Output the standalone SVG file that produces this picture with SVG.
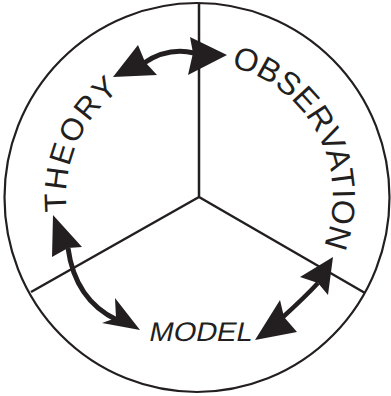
<svg xmlns="http://www.w3.org/2000/svg" width="391" height="396" viewBox="0 0 391 396">
<style>
.frame{fill:none;stroke:#231f20;stroke-width:2.2}
.div{fill:none;stroke:#231f20;stroke-width:2.5}
.shaft{fill:none;stroke:#231f20;stroke-width:5;stroke-linecap:butt}
.head{fill:#231f20;stroke:none}
.lbl{fill:#231f20;font-family:"Liberation Sans",Arial,sans-serif}
</style>
<defs>
<path id="pTheory" d="M66.8,211.6 A133,133 0 0 1 142.8,76.5"/>
<path id="pObs" d="M231,66.8 A134,134 0 0 1 301.6,283.1"/>
</defs>
<rect width="391" height="396" fill="#fff"/>
<g id="frame">
<ellipse class="frame" cx="197" cy="197.5" rx="192.5" ry="194.5"/>
<path class="div" d="M199,3 V197 M199,197 L31,292 M199,197 L365,293"/>
</g>
<g id="theory">
<text class="lbl" font-size="31"><textPath href="#pTheory" textLength="138" lengthAdjust="spacing">THEORY</textPath></text>
</g>
<g id="observation">
<text class="lbl" font-size="32"><textPath href="#pObs" textLength="228" lengthAdjust="spacing">OBSERVATION</textPath></text>
</g>
<g id="model">
<text class="lbl" font-size="27" transform="translate(148,341) skewX(-12)" textLength="103" lengthAdjust="spacingAndGlyphs">MODEL</text>
</g>
<g id="connectors">
<path class="shaft" d="M144,63 Q168,47 194,53"/>
<path class="head" d="M113,77 L138,45 L145,62 L157,75 Z"/>
<path class="head" d="M227,55 L190,37 L193,53 L188,75 Z"/>
<path class="shaft" d="M68,248 Q75,300 117,320"/>
<path class="head" d="M53,215 L82,247 L68,248 L52,257 Z"/>
<path class="head" d="M140,330 L115,298 L116,318 L102,323 Z"/>
<path class="shaft" style="stroke-width:4.5" d="M318,283 Q305,297 283,317"/>
<path class="head" d="M333,257 L300,277 L318,283 L328,295 Z"/>
<path class="head" d="M255,340 L280,300 L284,317 L297,332 Z"/>
</g>
</svg>
